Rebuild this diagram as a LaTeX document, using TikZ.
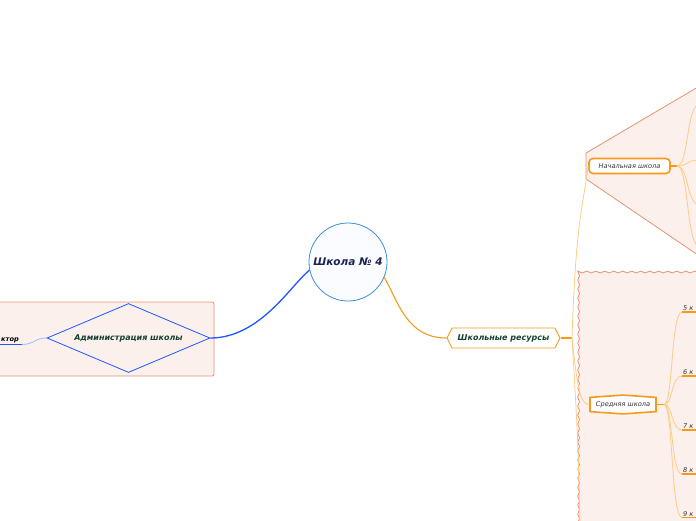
\documentclass[tikz,border=0pt]{standalone}
\usepackage{fontspec}
\setmainfont{DejaVu Sans}
\usepackage{tikz}
\usetikzlibrary{shapes.geometric, shapes.symbols, decorations.pathmorphing, calc}

\definecolor{regfill}{HTML}{FBF0EC}
\definecolor{regline}{HTML}{E99272}
\definecolor{adminblue}{HTML}{2255FF}
\definecolor{paleblue}{HTML}{A9BDFF}
\definecolor{ringblue}{HTML}{3E8FDB}
\definecolor{ringfill}{HTML}{FAFCFF}
\definecolor{navy}{HTML}{1B2452}
\definecolor{darkgreen}{HTML}{15402F}
\definecolor{orng}{HTML}{F79A1A}
\definecolor{paleorng}{HTML}{FFCB85}
\definecolor{txtgray}{HTML}{333333}

\begin{document}
\begin{tikzpicture}[x=1pt, y=-1pt,
    central/.style={circle, draw=ringblue, fill=ringfill, line width=0.8pt, minimum size=78pt, inner sep=0pt,
        font=\fontsize{10.5}{12}\selectfont\bfseries\itshape, text=navy},
    topic/.style={font=\fontsize{8}{9}\selectfont\bfseries\itshape, text=darkgreen},
    sub/.style={draw=orng, fill=white, line width=1.6pt, font=\fontsize{6.6}{8}\selectfont\itshape, text=txtgray, inner sep=0pt},
    klass/.style={anchor=south west, inner sep=1pt, font=\fontsize{6.6}{8}\selectfont\itshape, text=txtgray},
    region/.style={draw=regline, fill=regfill, line width=0.8pt},
    twig/.style={draw=paleorng, line width=0.8pt},
    stub/.style={draw=orng, line width=1.8pt}
]
    \clip (0,0) rectangle (696,520);

    % areas behind the branches
    \draw[region, rounded corners=2pt] (-20,302) rectangle (214,376);
    \draw[region] (586,153) -- (720,74) -- (720,270) -- (586,179) -- cycle;
    \draw[region, decorate, decoration={snake, amplitude=0.9pt, segment length=9pt}]
        (720,272) -- (582,272) -- (582,540) -- (720,540) -- cycle;

    \node[central] (school) at (348,262) {Школа № 4};

    \node[topic, diamond, draw=adminblue, line width=0.8pt, aspect=2.35, minimum width=163pt, minimum height=69pt,
        inner sep=0pt] (admin) at (128.5,338) {Администрация школы};
    \node[font=\fontsize{6.6}{8}\selectfont\bfseries\itshape, anchor=south west, inner sep=1pt] (dir) at (0,344.5) {ктор};

    \node[topic, signal, signal to=west and east, signal pointer angle=126, draw=orng, fill=white, line width=0.9pt,
        minimum width=113pt, minimum height=20pt, inner sep=0pt] (res) at (503.5,338) {Школьные ресурсы};

    \node[sub, rounded corners=4pt, minimum width=81pt, minimum height=15pt] (nach) at (629.5,166) {Начальная школа};
    \node[sub, signal, signal to=north and south, signal pointer angle=172, minimum width=66pt, minimum height=18pt]
        (sred) at (623,404.5) {Средняя школа};

    \node[klass] (k5) at (682,312) {5 к};
    \node[klass] (k6) at (682,376) {6 к};
    \node[klass] (k7) at (682,430) {7 к};
    \node[klass] (k8) at (682,474) {8 к};
    \node[klass] (k9) at (682,517.5) {9 к};

    \coordinate (resfork) at (572,338);
    \coordinate (nachfork) at (677,166);
    \coordinate (sredfork) at (664,404.5);
    \coordinate (lowend) at (580,525);
    \coordinate (n1) at (700,104);
    \coordinate (n2) at (700,160);
    \coordinate (n3) at (700,205);
    \coordinate (n4) at (700,247);
    \coordinate (dirline) at (22,344.5);
    \coordinate (k5end) at (700,312);
    \coordinate (k6end) at (700,376);
    \coordinate (k7end) at (700,430);
    \coordinate (k8end) at (700,474);
    \coordinate (k9end) at (700,517.5);

    % main connectors
    \draw[adminblue, line width=1.3pt] (school.192) .. controls +(-18,14) and +(50,0) .. (admin.east);
    \draw[orng, line width=1.1pt] (school.337) .. controls +(14,24) and +(-40,0) .. (res.west);
    \draw[paleblue, line width=0.9pt] (admin.west) .. controls +(-12,0) and +(12,0) .. (dirline);
    \draw[adminblue, line width=1.5pt] (dir.south west) -- (dirline);

    % branches
    \draw[stub] (res.east) -- (resfork);
    \draw[twig] (resfork) .. controls +(4,-120) and +(-5,40) .. (nach.west);
    \draw[twig] (resfork) .. controls +(5,45) and +(-10,0) .. (sred.west);
    \draw[twig] (resfork) .. controls +(6,100) and +(-2,-80) .. (lowend);

    \draw[stub] (nach.east) -- (nachfork);
    \foreach \n in {n1,n2,n3,n4}
        \draw[twig] (nachfork) .. controls +(12,0) and +(-14,0) .. (\n);

    \draw[stub] (sred.east) -- (sredfork);
    \foreach \k in {k5,k6,k7,k8,k9} {
        \draw[twig] (sredfork) .. controls +(9,0) and +(-11,0) .. (\k.south west);
        \draw[stub] (\k.south west) -- (\k end);
    }
\end{tikzpicture}
\end{document}
